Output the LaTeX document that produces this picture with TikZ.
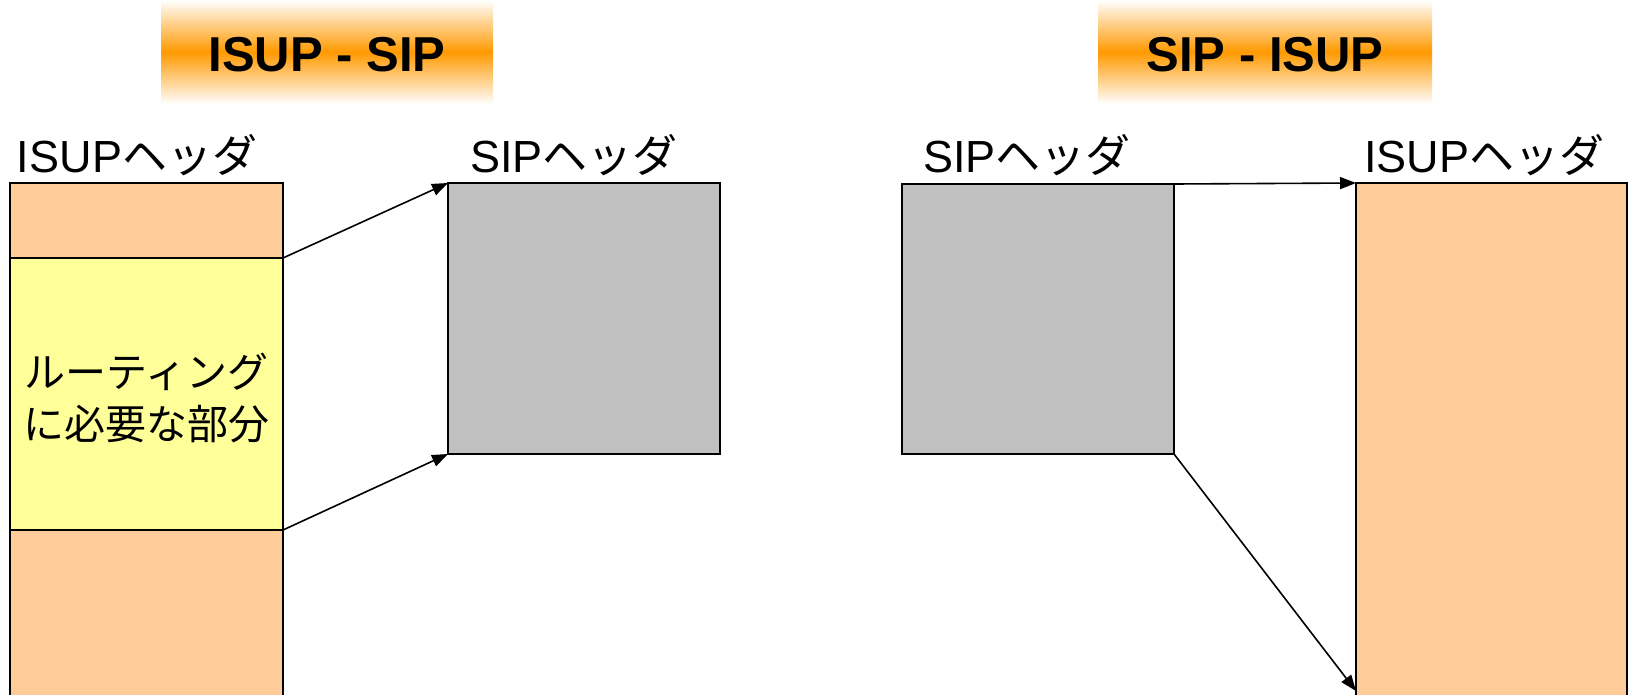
\documentclass[tikz,border=0pt]{standalone}
\usepackage{fontspec}
\setmainfont{Liberation Sans}
\newfontfamily\jp{Noto Sans CJK JP}
\usetikzlibrary{arrows.meta}
\definecolor{hdrorange}{HTML}{FFCC99}
\definecolor{routeyellow}{HTML}{FFFF99}
\definecolor{sipgray}{HTML}{C0C0C0}
\definecolor{titleorange}{HTML}{FF9900}
\begin{document}
\begin{tikzpicture}[x=1pt,y=-1pt,
  blk/.style={draw=black,line width=1.5pt,inner sep=0pt,outer sep=0pt,anchor=north west},
  conn/.style={line width=1.6pt,-{Triangle[length=16pt,width=12pt]}},
  lbl/.style={inner sep=0pt,anchor=base,font=\fontsize{45}{50}\selectfont},
  ttl/.style={inner sep=0pt,font=\fontsize{49}{55}\selectfont\bfseries}]
\useasboundingbox (0,0) rectangle (1628,694);
\clip (0,0) rectangle (1628,694);
% title bands
\shade[top color=white,bottom color=titleorange] (161,0) rectangle (493,52);
\shade[top color=titleorange,bottom color=white] (161,52) rectangle (493,104);
\shade[top color=white,bottom color=titleorange] (1098,0) rectangle (1432,52);
\shade[top color=titleorange,bottom color=white] (1098,52) rectangle (1432,104);
\node[ttl] (t1) at (327,55) {ISUP - SIP};
\node[ttl] (t2) at (1265,55) {SIP - ISUP};
% left side
\node[blk,fill=hdrorange,minimum width=273pt,minimum height=75pt] (itop) at (10,183) {};
\node[blk,fill=routeyellow,minimum width=273pt,minimum height=272pt] (iroute) at (10,258) {};
\node[blk,fill=hdrorange,minimum width=273pt,minimum height=200pt] (ibot) at (10,530) {};
\node[inner sep=0pt,align=center,font=\fontsize{41}{52}\selectfont\jp] (rtxt) at (146.5,398) {ルーティング\\に必要な部分};
\node[blk,fill=sipgray,minimum width=272pt,minimum height=271pt] (sipL) at (448,183) {};
\node[lbl] (lblIL) at (137,172) {ISUP{\jp ヘッダ}};
\node[lbl] (lblSL) at (574,172) {SIP{\jp ヘッダ}};
\draw[conn] (itop.south east) -- (sipL.north west);
\draw[conn] (iroute.south east) -- (sipL.south west);
% right side
\node[blk,fill=sipgray,minimum width=272pt,minimum height=270pt] (sipR) at (902,184) {};
\node[blk,fill=hdrorange,minimum width=271pt,minimum height=560pt] (isupR) at (1356,183) {};
\node[lbl] (lblSR) at (1027,172) {SIP{\jp ヘッダ}};
\node[lbl] (lblIR) at (1484,172) {ISUP{\jp ヘッダ}};
\coordinate (endR) at (1356,691);
\draw[conn] (sipR.north east) -- (isupR.north west);
\draw[conn] (sipR.south east) -- (endR);
\end{tikzpicture}
\end{document}
